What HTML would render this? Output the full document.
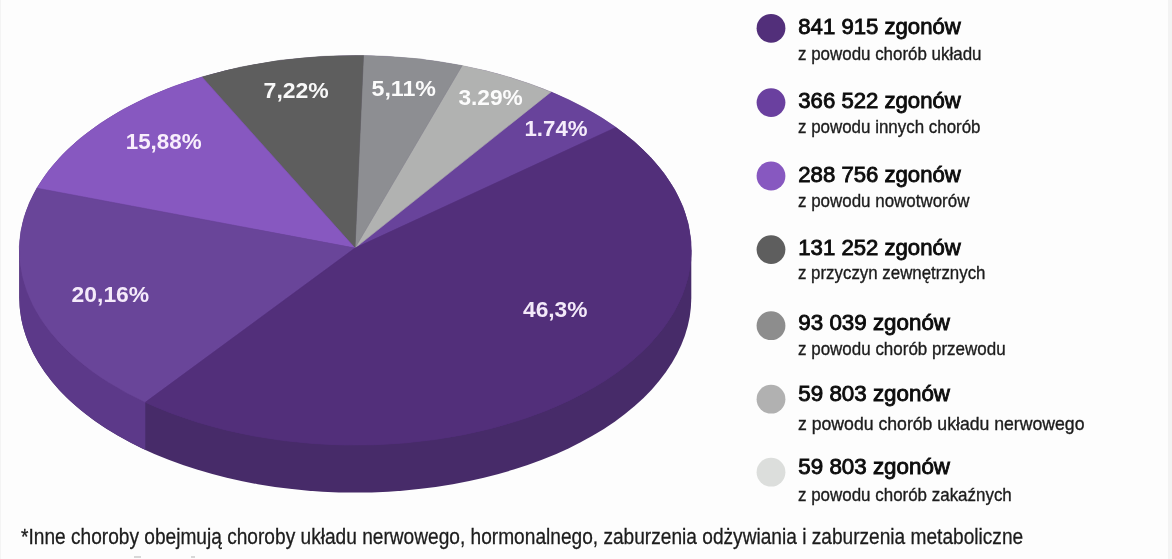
<!DOCTYPE html>
<html lang="pl"><head><meta charset="utf-8"><title>Zgony - wykres</title>
<style>
html,body{margin:0;padding:0;background:#fdfdfd;}
body{width:1172px;height:559px;overflow:hidden;font-family:"Liberation Sans",sans-serif;}
svg{display:block;will-change:transform;}
</style></head><body>
<svg width="1172" height="559" viewBox="0 0 1172 559">
<rect width="1172" height="559" fill="#fdfdfd"/>
<rect x="1168" y="0" width="4" height="559" fill="#f3f3f3"/>
<rect x="0" y="0" width="1" height="559" fill="#f4f4f4"/>
<path d="M19.30,250.30 L19.30,297.80 A336.0,194.8 0 0 0 691.30,297.80 L691.30,250.30 Z" fill="#472b69"/>
<path d="M145.30,402.36 A336.0,194.8 0 0 1 19.30,250.30 L19.30,297.80 A336.0,194.8 0 0 0 145.30,449.86 Z" fill="#5c3989"/>
<ellipse cx="355.3" cy="250.3" rx="336.0" ry="194.8" fill="#522f7a"/>
<path d="M355.00,248.10 L551.00,91.95 A336.0,194.8 0 0 1 615.97,127.38 Z" fill="#68439b" stroke="#68439b" stroke-width="0.6"/>
<path d="M355.00,248.10 L462.15,65.61 A336.0,194.8 0 0 1 551.00,91.95 Z" fill="#b1b2b1" stroke="#b1b2b1" stroke-width="0.6"/>
<path d="M355.00,248.10 L363.48,55.56 A336.0,194.8 0 0 1 462.15,65.61 Z" fill="#8d8e92" stroke="#8d8e92" stroke-width="0.6"/>
<path d="M355.00,248.10 L201.97,76.97 A336.0,194.8 0 0 1 363.48,55.56 Z" fill="#5e5e5e" stroke="#5e5e5e" stroke-width="0.6"/>
<path d="M355.00,248.10 L36.86,188.16 A336.0,194.8 0 0 1 201.97,76.97 Z" fill="#8758c0" stroke="#8758c0" stroke-width="0.6"/>
<path d="M355.00,248.10 L145.30,402.36 A336.0,194.8 0 0 1 36.86,188.16 Z" fill="#694599" stroke="#694599" stroke-width="0.6"/>
<path d="M355.00,248.10 L615.97,127.38 A336.0,194.8 0 0 1 145.30,402.36 Z" fill="#522f7a" stroke="#522f7a" stroke-width="0.6"/>
<text x="523" y="316.5" textLength="64.5" lengthAdjust="spacingAndGlyphs" font-family="Liberation Sans, sans-serif" font-weight="700" font-size="22.6" fill="#f3e9f9">46,3%</text>
<text x="524.5" y="135.7" textLength="63.1" lengthAdjust="spacingAndGlyphs" font-family="Liberation Sans, sans-serif" font-weight="700" font-size="22.6" fill="#f5ecfb">1.74%</text>
<text x="458.4" y="105" textLength="64.4" lengthAdjust="spacingAndGlyphs" font-family="Liberation Sans, sans-serif" font-weight="700" font-size="22.6" fill="#fcfcfc">3.29%</text>
<text x="371.5" y="95.8" textLength="64.5" lengthAdjust="spacingAndGlyphs" font-family="Liberation Sans, sans-serif" font-weight="700" font-size="22.6" fill="#fbfbfb">5,11%</text>
<text x="263.6" y="97.9" textLength="65.2" lengthAdjust="spacingAndGlyphs" font-family="Liberation Sans, sans-serif" font-weight="700" font-size="22.6" fill="#f8f8f8">7,22%</text>
<text x="125.7" y="148.9" textLength="75.9" lengthAdjust="spacingAndGlyphs" font-family="Liberation Sans, sans-serif" font-weight="700" font-size="22.6" fill="#f8eefc">15,88%</text>
<text x="71.6" y="301.7" textLength="77.6" lengthAdjust="spacingAndGlyphs" font-family="Liberation Sans, sans-serif" font-weight="700" font-size="22.6" fill="#f4eafa">20,16%</text>
<circle cx="771" cy="28.3" r="14.4" fill="#522f7a"/>
<text x="798.3" y="34.0" textLength="162.5" lengthAdjust="spacingAndGlyphs" font-family="Liberation Sans, sans-serif" font-size="21.6" fill="#0c0c0c" stroke="#0c0c0c" stroke-width="0.85">841 915 zgonów</text>
<text x="798" y="59.6" textLength="183.5" lengthAdjust="spacingAndGlyphs" font-family="Liberation Sans, sans-serif" font-size="18.4" fill="#1c1c1c" stroke="#1c1c1c" stroke-width="0.35">z powodu chorób układu</text>
<circle cx="771" cy="102.6" r="14.4" fill="#6a409f"/>
<text x="798.3" y="107.9" textLength="162.5" lengthAdjust="spacingAndGlyphs" font-family="Liberation Sans, sans-serif" font-size="21.6" fill="#0c0c0c" stroke="#0c0c0c" stroke-width="0.85">366 522 zgonów</text>
<text x="798" y="132.8" textLength="182.5" lengthAdjust="spacingAndGlyphs" font-family="Liberation Sans, sans-serif" font-size="18.4" fill="#1c1c1c" stroke="#1c1c1c" stroke-width="0.35">z powodu innych chorób</text>
<circle cx="771" cy="176" r="14.4" fill="#8758c0"/>
<text x="798.3" y="182.1" textLength="162.5" lengthAdjust="spacingAndGlyphs" font-family="Liberation Sans, sans-serif" font-size="21.6" fill="#0c0c0c" stroke="#0c0c0c" stroke-width="0.85">288 756 zgonów</text>
<text x="798" y="206.8" textLength="171.4" lengthAdjust="spacingAndGlyphs" font-family="Liberation Sans, sans-serif" font-size="18.4" fill="#1c1c1c" stroke="#1c1c1c" stroke-width="0.35">z powodu nowotworów</text>
<circle cx="771" cy="249.6" r="14.4" fill="#5e5e5e"/>
<text x="798.3" y="254.8" textLength="162.5" lengthAdjust="spacingAndGlyphs" font-family="Liberation Sans, sans-serif" font-size="21.6" fill="#0c0c0c" stroke="#0c0c0c" stroke-width="0.85">131 252 zgonów</text>
<text x="798" y="279.2" textLength="187.5" lengthAdjust="spacingAndGlyphs" font-family="Liberation Sans, sans-serif" font-size="18.4" fill="#1c1c1c" stroke="#1c1c1c" stroke-width="0.35">z przyczyn zewnętrznych</text>
<circle cx="771" cy="325.7" r="14.4" fill="#8d8d8d"/>
<text x="798.3" y="330.2" textLength="151.7" lengthAdjust="spacingAndGlyphs" font-family="Liberation Sans, sans-serif" font-size="21.6" fill="#0c0c0c" stroke="#0c0c0c" stroke-width="0.85">93 039 zgonów</text>
<text x="798" y="355.4" textLength="207.6" lengthAdjust="spacingAndGlyphs" font-family="Liberation Sans, sans-serif" font-size="18.4" fill="#1c1c1c" stroke="#1c1c1c" stroke-width="0.35">z powodu chorób przewodu</text>
<circle cx="771" cy="399.2" r="14.4" fill="#b1b1b1"/>
<text x="798.3" y="401.1" textLength="151.7" lengthAdjust="spacingAndGlyphs" font-family="Liberation Sans, sans-serif" font-size="21.6" fill="#0c0c0c" stroke="#0c0c0c" stroke-width="0.85">59 803 zgonów</text>
<text x="798" y="429.7" textLength="286.5" lengthAdjust="spacingAndGlyphs" font-family="Liberation Sans, sans-serif" font-size="18.4" fill="#1c1c1c" stroke="#1c1c1c" stroke-width="0.35">z powodu chorób układu nerwowego</text>
<circle cx="771" cy="472.2" r="14.4" fill="#dcdedc"/>
<text x="798.3" y="473.6" textLength="151.7" lengthAdjust="spacingAndGlyphs" font-family="Liberation Sans, sans-serif" font-size="21.6" fill="#0c0c0c" stroke="#0c0c0c" stroke-width="0.85">59 803 zgonów</text>
<text x="798" y="500.6" textLength="213.8" lengthAdjust="spacingAndGlyphs" font-family="Liberation Sans, sans-serif" font-size="18.4" fill="#1c1c1c" stroke="#1c1c1c" stroke-width="0.35">z powodu chorób zakaźnych</text>
<text x="21" y="543.7" textLength="1002.2" lengthAdjust="spacingAndGlyphs" font-family="Liberation Sans, sans-serif" font-size="22.5" fill="#1c1c1c" stroke="#1c1c1c" stroke-width="0.3">*Inne choroby obejmują choroby układu nerwowego, hormonalnego, zaburzenia odżywiania i zaburzenia metaboliczne</text>
<rect x="134" y="556.3" width="7" height="1.4" fill="#c8c8c8"/>
<rect x="191" y="556.3" width="4" height="1.4" fill="#c8c8c8"/>
</svg>
</body></html>
